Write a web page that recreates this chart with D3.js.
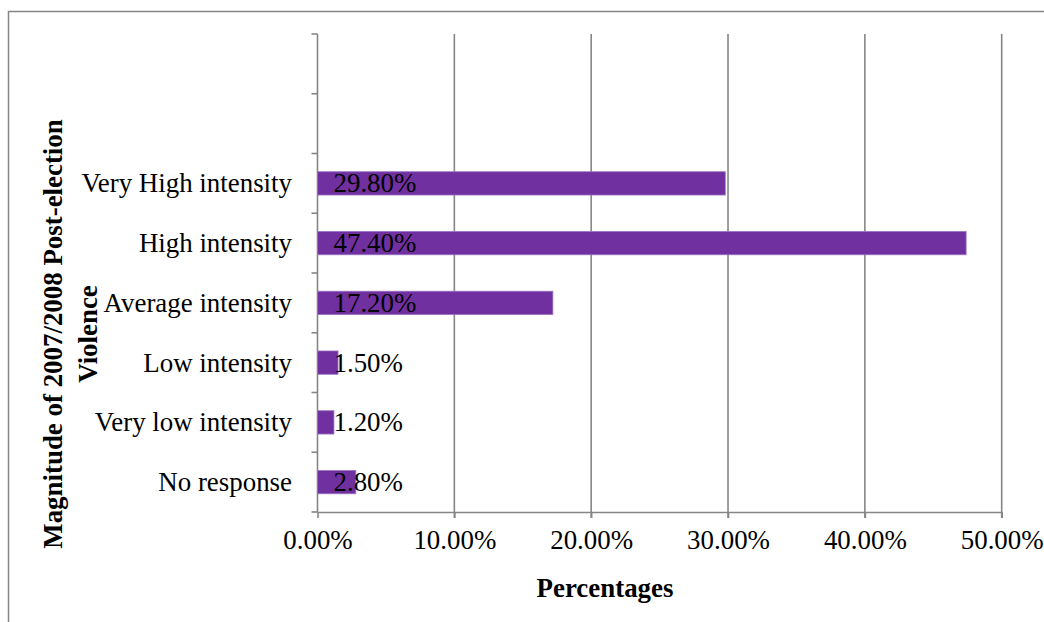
<!DOCTYPE html>
<html>
<head>
<meta charset="utf-8">
<script src="https://cdn.jsdelivr.net/npm/d3@7"></script>
<style>
  html, body { margin: 0; padding: 0; background: #fff; }
  svg { display: block; font-family: "Liberation Serif", "Times New Roman", serif; }
</style>
</head>
<body>
<svg id="chart" width="1044" height="622"></svg>
<script>
// Response categories, listed top to bottom (two unused slots sit above them)
const slots = ["slot-a", "slot-b"];
const categories = ["Very High intensity", "High intensity", "Average intensity",
                    "Low intensity", "Very low intensity", "No response"];
const percentages = [29.8, 47.4, 17.2, 1.5, 1.2, 2.8];
const xTicks = [0, 10, 20, 30, 40, 50];
const xTitle = "Percentages";
const yTitleLines = ["Magnitude of 2007/2008 Post-election", "Violence"];

const svg = d3.select("#chart");
const W = 1044, H = 622;
const plotLeft = 317.5, plotRight = 1001.7, plotTop = 34, plotBottom = 512;
const grey = "#868686";
const fontSize = 26.9;

// outer frame
svg.append("rect")
  .attr("x", 8.5).attr("y", 11.5)
  .attr("width", W + 20).attr("height", H + 20)
  .attr("fill", "none").attr("stroke", grey).attr("stroke-width", 1.5);

const x = d3.scaleLinear().domain([0, 50]).range([plotLeft, plotRight]);
const y = d3.scaleBand().domain(slots.concat(categories)).range([plotTop, plotBottom]).padding(0);
const barH = y.bandwidth() * 0.39;

// vertical gridlines
svg.append("g").selectAll("line")
  .data(xTicks.filter(t => t > 0))
  .join("line")
  .attr("x1", d => x(d)).attr("x2", d => x(d))
  .attr("y1", plotTop).attr("y2", plotBottom + 6)
  .attr("stroke", grey).attr("stroke-width", 1.6);

// x axis
const xAxis = d3.axisBottom(x).tickValues(xTicks)
  .tickFormat(d => d3.format(".2f")(d) + "%")
  .tickSize(6).tickSizeOuter(0);
const gx = svg.append("g").attr("transform", `translate(0,${plotBottom})`).call(xAxis);
gx.attr("font-family", null).attr("font-size", null);
gx.select(".domain").attr("stroke", grey).attr("stroke-width", 1.6);
gx.selectAll(".tick line").attr("stroke", grey).attr("stroke-width", 1.6);
gx.selectAll(".tick text")
  .attr("font-size", fontSize).attr("fill", "#000")
  .attr("y", 18).attr("dy", "0.71em");

// y axis line and boundary ticks between slots
svg.append("line")
  .attr("x1", plotLeft).attr("x2", plotLeft).attr("y1", plotTop).attr("y2", plotBottom)
  .attr("stroke", grey).attr("stroke-width", 1.6);
const boundaries = y.domain().map(d => y(d)).concat([plotBottom]);
svg.append("g").selectAll("line")
  .data(boundaries)
  .join("line")
  .attr("x1", plotLeft - 6).attr("x2", plotLeft)
  .attr("y1", d => d).attr("y2", d => d)
  .attr("stroke", grey).attr("stroke-width", 1.6);

// category labels
svg.append("g").selectAll("text")
  .data(categories)
  .join("text")
  .attr("x", 292)
  .attr("y", d => y(d) + y.bandwidth() / 2)
  .attr("dy", "0.33em")
  .attr("text-anchor", "end")
  .attr("font-size", fontSize)
  .text(d => d);

// bars
svg.append("g").selectAll("rect")
  .data(categories)
  .join("rect")
  .attr("x", x(0))
  .attr("y", d => y(d) + (y.bandwidth() - barH) / 2)
  .attr("width", (d, i) => x(percentages[i]) - x(0))
  .attr("height", barH)
  .attr("fill", "#7030A0")
  .attr("stroke", "#9b72c4")
  .attr("stroke-width", 0.8);

// value labels at the bar base
svg.append("g").selectAll("text")
  .data(categories)
  .join("text")
  .attr("x", x(0) + 16)
  .attr("y", d => y(d) + y.bandwidth() / 2)
  .attr("dy", "0.33em")
  .attr("font-size", fontSize)
  .text((d, i) => d3.format(".2f")(percentages[i]) + "%");

// axis titles
svg.append("text")
  .attr("x", 605).attr("y", 597)
  .attr("text-anchor", "middle")
  .attr("font-size", fontSize).attr("font-weight", "bold")
  .text(xTitle);

const yt = svg.append("text")
  .attr("transform", "translate(62,334) rotate(-90)")
  .attr("text-anchor", "middle")
  .attr("font-size", fontSize).attr("font-weight", "bold");
yTitleLines.forEach((line, i) => {
  yt.append("tspan").attr("x", 0).attr("y", i * 35).text(line);
});
</script>
</body>
</html>
